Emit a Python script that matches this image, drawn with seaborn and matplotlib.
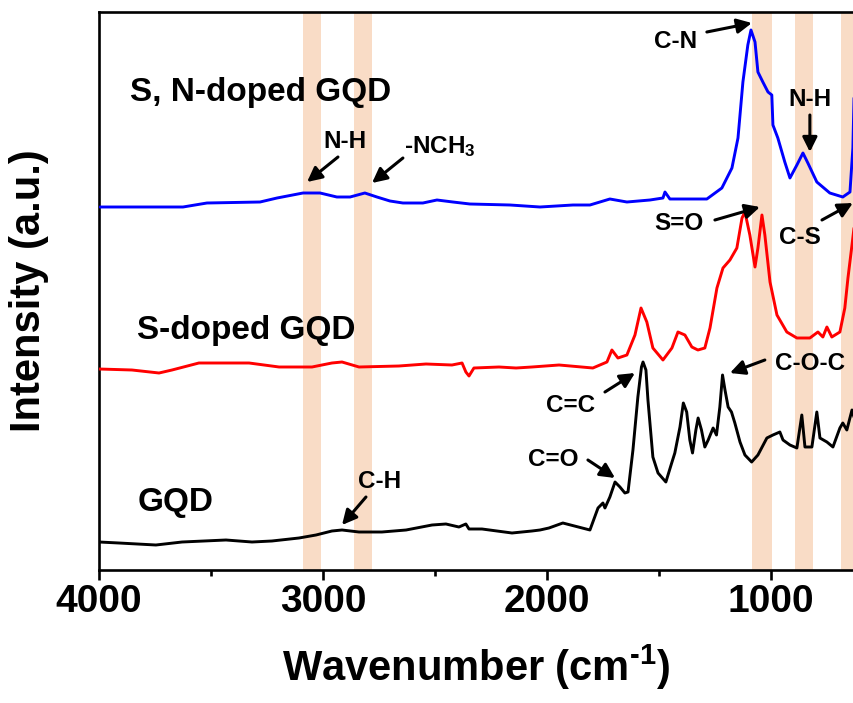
import matplotlib
matplotlib.use("Agg")
import matplotlib.pyplot as plt
import seaborn as sns
import pandas as pd

# ---------------- data (wavenumber in cm-1, intensity in a.u., stacked) -------------
gqd_wn = [4000, 3911, 3746, 3629, 3433, 3317, 3228, 3107, 3031, 2960, 2915, 2839, 2737,
          2629, 2513, 2451, 2393, 2362, 2348, 2290, 2156, 2067, 2031, 1991, 1929, 1808,
          1772, 1750, 1741, 1719, 1696, 1674, 1652, 1638, 1616, 1594, 1578, 1571, 1558,
          1549, 1527, 1504, 1469, 1443, 1429, 1406, 1391, 1376, 1362, 1350, 1335, 1325,
          1310, 1295, 1280, 1258, 1243, 1228, 1216, 1205, 1191, 1176, 1161, 1138, 1116,
          1086, 1058, 1018, 991, 960, 946, 915, 884, 862, 848,
          817, 795, 781, 750, 723, 692, 679, 661, 638, 629]
gqd_int = [28, 27, 25, 28, 30, 28, 29, 32, 35, 39, 40, 38, 38,
           40, 45, 46, 43, 46, 41, 41, 37, 39, 40, 42, 47, 40,
           62, 67, 62, 73, 88, 83, 77, 78, 120, 173, 203, 208, 200,
           170, 113, 97, 88, 107, 117, 143, 167, 158, 130, 117, 140, 152,
           140, 123, 130, 142, 135, 163, 195, 180, 163, 158, 147, 128, 115,
           108, 115, 132, 135, 138, 130, 125, 122, 155, 123,
           123, 158, 132, 128, 123, 142, 147, 140, 160, 153]

s_wn = [4000, 3853, 3732, 3674, 3554, 3509, 3330, 3196, 3049, 2960, 2915, 2839, 2661,
        2540, 2424, 2379, 2362, 2348, 2326, 2214, 2138, 2067, 1946, 1795, 1732, 1710,
        1683, 1643, 1607, 1580, 1554, 1527, 1482, 1442, 1415, 1384, 1353, 1326, 1295,
        1272, 1241, 1214, 1183, 1152, 1129, 1116, 1094, 1071, 1058, 1040, 1027, 1004,
        973, 929, 884, 826, 790, 768, 750, 728, 692, 670, 656, 638, 629]
s_int = [201, 200, 197, 200, 207, 207, 207, 203, 203, 207, 208, 203, 204,
         206, 205, 207, 198, 194, 202, 203, 202, 203, 205, 202, 208, 220,
         212, 215, 235, 262, 248, 222, 210, 222, 238, 235, 223, 220, 222,
         242, 282, 302, 310, 322, 352, 358, 335, 303, 322, 355, 335, 288,
         255, 238, 232, 232, 238, 233, 243, 233, 238, 262, 292, 325, 342]

sn_wn = [3996, 3625, 3518, 3281, 3205, 3089, 3013, 2938, 2879, 2813, 2759, 2701, 2643,
         2554, 2491, 2420, 2344, 2165, 2031, 1884, 1808, 1719, 1643, 1540, 1482, 1473,
         1451, 1286, 1219, 1174, 1147, 1125, 1103, 1089, 1071, 1058, 1036, 1013, 996,
         991, 969, 938, 915, 884, 857, 835, 795, 737, 679, 647, 634, 629]
sn_int = [363, 363, 367, 368, 372, 377, 377, 373, 373, 377, 373, 369, 367,
          367, 370, 368, 366, 365, 363, 365, 365, 371, 368, 370, 372, 378,
          371, 371, 382, 402, 432, 488, 525, 540, 528, 498, 488, 478, 475,
          445, 432, 408, 392, 405, 417, 407, 388, 377, 373, 378, 422, 472]

band_lo = [3010, 2780, 995, 813, 600]
band_hi = [3090, 2860, 1085, 893, 687]

sample_names = ["S, N-doped GQD", "S-doped GQD", "GQD"]
sample_label_xy = [(3862, 478), (3830, 239), (3826, 67)]

peak_labels = ["N-H", "-NCH$_3$", "C-N", "N-H", "S=O", "C-S", "C=C", "C=O", "C-O-C", "C-H"]
peak_text_xy = [(2902, 429), (2478, 423), (1424, 529), (826, 471), (1411, 346),
                (871, 332), (1893, 164), (1973, 111), (826, 206), (2746, 89)]
peak_tail_xy = [(2933, 413), (2643, 412), (1286, 538), (826, 455), (1250, 350),
                (772, 350), (1741, 178), (1817, 110), (1027, 210), (2808, 73)]
peak_tip_xy = [(3071, 388), (2781, 387), (1085, 547), (826, 418), (1049, 363),
               (634, 367), (1607, 197), (1696, 92), (1183, 197), (2915, 45)]

# ---------------- style ----------------
sns.set_style("ticks")
plt.rcParams['font.family'] = ['Liberation Sans', 'DejaVu Sans']
plt.rcParams['font.weight'] = 'bold'
plt.rcParams['mathtext.fontset'] = 'custom'
plt.rcParams['mathtext.rm'] = 'Liberation Sans:bold'
plt.rcParams['mathtext.it'] = 'Liberation Sans:bold'
plt.rcParams['mathtext.bf'] = 'Liberation Sans:bold'
for k in ['text.color', 'axes.labelcolor', 'xtick.color', 'ytick.color', 'axes.edgecolor']:
    plt.rcParams[k] = 'black'

fig = plt.figure(figsize=(8.54, 7.03), dpi=100)
ax = fig.add_axes([99 / 854, 1 - 570 / 703, 1 - 99 / 854, (570 - 12) / 703])

for lo, hi in zip(band_lo, band_hi):
    ax.axvspan(lo, hi, color='#F9DCC6', lw=0, zorder=0)

df = pd.concat([
    pd.DataFrame({'wn': gqd_wn, 'I': gqd_int, 's': 'GQD'}),
    pd.DataFrame({'wn': s_wn, 'I': s_int, 's': 'S'}),
    pd.DataFrame({'wn': sn_wn, 'I': sn_int, 's': 'SN'}),
])
sns.lineplot(data=df, x='wn', y='I', hue='s', palette={'GQD': 'black', 'S': '#FF0000', 'SN': '#0000FF'},
             estimator=None, lw=2.1, ax=ax, legend=False, zorder=3)

for name, (x, y) in zip(sample_names, sample_label_xy):
    ax.text(x, y, name, fontsize=24, fontweight='bold', ha='left', va='center', zorder=5)

for lab, txy, tail, tip in zip(peak_labels, peak_text_xy, peak_tail_xy, peak_tip_xy):
    ax.text(txy[0], txy[1], lab, fontsize=17.5, fontweight='bold', ha='center', va='center', zorder=5)
    ax.annotate('', xy=tip, xytext=tail,
                arrowprops=dict(arrowstyle='-|>', color='black', lw=2.2, mutation_scale=22,
                                shrinkA=0, shrinkB=0), zorder=5)

ax.set_xlim(4000, 629)
ax.set_ylim(0, 558)
ax.set_xticks([4000, 3000, 2000, 1000])
ax.set_xticks([3500, 2500, 1500], minor=True)
ax.set_yticks([])
ax.tick_params(axis='x', which='major', direction='out', length=7, width=1.9, labelsize=28, pad=3)
ax.tick_params(axis='x', which='minor', direction='out', length=4.5, width=1.9)
for lbl in ax.get_xticklabels():
    lbl.set_fontweight('bold')
for side in ['left', 'bottom', 'top']:
    ax.spines[side].set_linewidth(1.9)
ax.spines['right'].set_visible(False)

ax.set_xlabel('Wavenumber (cm$^{\u2010 1}$)', fontsize=30, fontweight='bold', labelpad=16)
ax.set_ylabel('Intensity (a.u.)', fontsize=30, fontweight='bold', labelpad=36)

fig.savefig('out.png', dpi=100)
